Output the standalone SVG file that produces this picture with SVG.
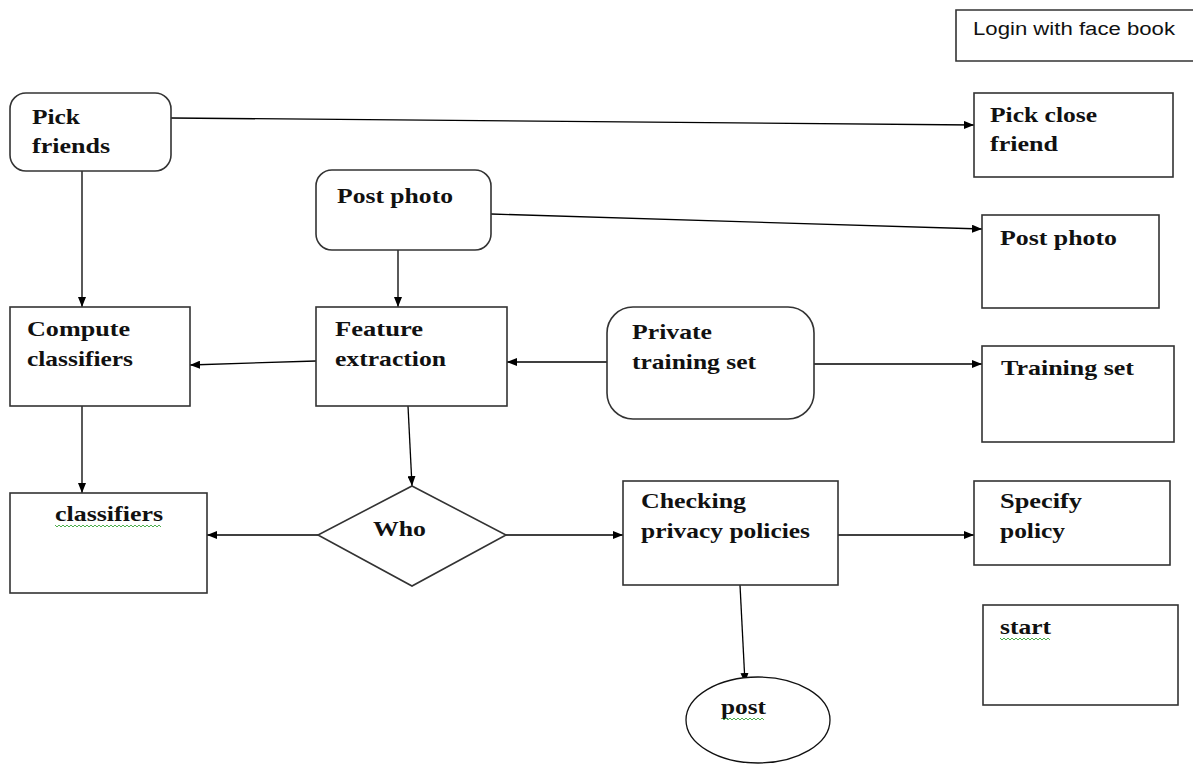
<svg xmlns="http://www.w3.org/2000/svg" width="1193" height="766" viewBox="0 0 1193 766">
<style>
.box{fill:#fff;stroke:#333;stroke-width:1.6}
.t{font-family:"Liberation Serif","Times New Roman",serif;font-weight:bold;font-size:22px;fill:#111}
.s{font-family:"Liberation Sans",Arial,sans-serif;font-size:18px;fill:#111}
.c{stroke:#000;stroke-width:1.3;fill:none;marker-end:url(#ah)}
.sq{stroke:#3aa63a;stroke-width:0.9;fill:none}
</style>
<defs>
<marker id="ah" viewBox="0 0 10 8" refX="10" refY="4" markerWidth="10" markerHeight="8" markerUnits="userSpaceOnUse" orient="auto">
<path d="M0,0 L10,4 L0,8 Z" fill="#000"/>
</marker>
</defs>
<rect width="1193" height="766" fill="#fff"/>
<g id="connectors">
<line class="c" x1="171" y1="118" x2="974" y2="125"/>
<line class="c" x1="491" y1="214" x2="982" y2="229"/>
<line class="c" x1="82" y1="171" x2="82" y2="307"/>
<line class="c" x1="398" y1="250" x2="398" y2="307"/>
<line class="c" x1="316" y1="361" x2="190" y2="365"/>
<line class="c" x1="607" y1="362" x2="507" y2="362"/>
<line class="c" x1="814" y1="364" x2="982" y2="364"/>
<line class="c" x1="82" y1="406" x2="82" y2="493"/>
<line class="c" x1="408" y1="406" x2="412" y2="486"/>
<line class="c" x1="318" y1="535" x2="207" y2="535"/>
<line class="c" x1="506" y1="535" x2="623" y2="535"/>
<line class="c" x1="838" y1="535" x2="974" y2="535"/>
<line class="c" x1="740" y1="585" x2="745" y2="683"/>
</g>
<g id="login">
<path class="box" d="M1194,10 L956,10 L956,61 L1194,61"/>
<text class="s" x="973" y="35" textLength="202" lengthAdjust="spacingAndGlyphs">Login with face book</text>
</g>
<g id="pick-friends">
<rect class="box" x="10" y="93" width="161" height="78" rx="16"/>
<text class="t" x="32" y="124" textLength="48" lengthAdjust="spacingAndGlyphs">Pick</text>
<text class="t" x="32" y="153" textLength="78" lengthAdjust="spacingAndGlyphs">friends</text>
</g>
<g id="pick-close-friend">
<rect class="box" x="974" y="93" width="199" height="84"/>
<text class="t" x="990" y="122" textLength="107" lengthAdjust="spacingAndGlyphs">Pick close</text>
<text class="t" x="990" y="151" textLength="68" lengthAdjust="spacingAndGlyphs">friend</text>
</g>
<g id="post-photo">
<rect class="box" x="316" y="170" width="175" height="80" rx="16"/>
<text class="t" x="337" y="203" textLength="116" lengthAdjust="spacingAndGlyphs">Post photo</text>
</g>
<g id="post-photo-2">
<rect class="box" x="982" y="215" width="177" height="93"/>
<text class="t" x="1000" y="245" textLength="117" lengthAdjust="spacingAndGlyphs">Post photo</text>
</g>
<g id="compute-classifiers">
<rect class="box" x="10" y="307" width="180" height="99"/>
<text class="t" x="27" y="336" textLength="103" lengthAdjust="spacingAndGlyphs">Compute</text>
<text class="t" x="27" y="366" textLength="106" lengthAdjust="spacingAndGlyphs">classifiers</text>
</g>
<g id="feature-extraction">
<rect class="box" x="316" y="307" width="191" height="99"/>
<text class="t" x="335" y="336" textLength="88" lengthAdjust="spacingAndGlyphs">Feature</text>
<text class="t" x="335" y="366" textLength="111" lengthAdjust="spacingAndGlyphs">extraction</text>
</g>
<g id="private-training-set">
<rect class="box" x="607" y="307" width="207" height="112" rx="26"/>
<text class="t" x="632" y="339" textLength="80" lengthAdjust="spacingAndGlyphs">Private</text>
<text class="t" x="632" y="369" textLength="124" lengthAdjust="spacingAndGlyphs">training set</text>
</g>
<g id="training-set">
<rect class="box" x="982" y="346" width="192" height="96"/>
<text class="t" x="1001" y="375" textLength="133" lengthAdjust="spacingAndGlyphs">Training set</text>
</g>
<g id="classifiers">
<rect class="box" x="10" y="493" width="197" height="100"/>
<text class="t" x="55" y="521" textLength="108" lengthAdjust="spacingAndGlyphs">classifiers</text>
<path class="sq" d="M55,525 l2,2 l2,-2 l2,2 l2,-2 l2,2 l2,-2 l2,2 l2,-2 l2,2 l2,-2 l2,2 l2,-2 l2,2 l2,-2 l2,2 l2,-2 l2,2 l2,-2 l2,2 l2,-2 l2,2 l2,-2 l2,2 l2,-2 l2,2 l2,-2 l2,2 l2,-2 l2,2 l2,-2 l2,2 l2,-2 l2,2 l2,-2 l2,2 l2,-2 l2,2 l2,-2 l2,2 l2,-2 l2,2 l2,-2 l2,2 l2,-2 l2,2 l2,-2 l2,2 l2,-2 l2,2 l2,-2 l2,2 l2,-2 l2,2"/>
</g>
<g id="who">
<polygon class="box" points="412,486 506,535 412,586 318,535"/>
<text class="t" x="373" y="536" textLength="53" lengthAdjust="spacingAndGlyphs">Who</text>
</g>
<g id="checking-privacy-policies">
<rect class="box" x="623" y="481" width="215" height="104"/>
<text class="t" x="641" y="508" textLength="105" lengthAdjust="spacingAndGlyphs">Checking</text>
<text class="t" x="641" y="538" textLength="169" lengthAdjust="spacingAndGlyphs">privacy policies</text>
</g>
<g id="specify-policy">
<rect class="box" x="974" y="481" width="196" height="84"/>
<text class="t" x="1000" y="508" textLength="82" lengthAdjust="spacingAndGlyphs">Specify</text>
<text class="t" x="1000" y="538" textLength="65" lengthAdjust="spacingAndGlyphs">policy</text>
</g>
<g id="start">
<rect class="box" x="983" y="605" width="195" height="100"/>
<text class="t" x="1000" y="634" textLength="51" lengthAdjust="spacingAndGlyphs">start</text>
<path class="sq" d="M1000,638 l2,2 l2,-2 l2,2 l2,-2 l2,2 l2,-2 l2,2 l2,-2 l2,2 l2,-2 l2,2 l2,-2 l2,2 l2,-2 l2,2 l2,-2 l2,2 l2,-2 l2,2 l2,-2 l2,2 l2,-2 l2,2 l2,-2 l2,2"/>
</g>
<g id="post">
<ellipse class="box" cx="758" cy="720" rx="72" ry="43" style="stroke:#111;stroke-width:1.3"/>
<text class="t" x="721" y="714" textLength="45" lengthAdjust="spacingAndGlyphs">post</text>
<path class="sq" d="M722,718 l2,2 l2,-2 l2,2 l2,-2 l2,2 l2,-2 l2,2 l2,-2 l2,2 l2,-2 l2,2 l2,-2 l2,2 l2,-2 l2,2 l2,-2 l2,2 l2,-2 l2,2 l2,-2 l2,2"/>
</g>
</svg>
